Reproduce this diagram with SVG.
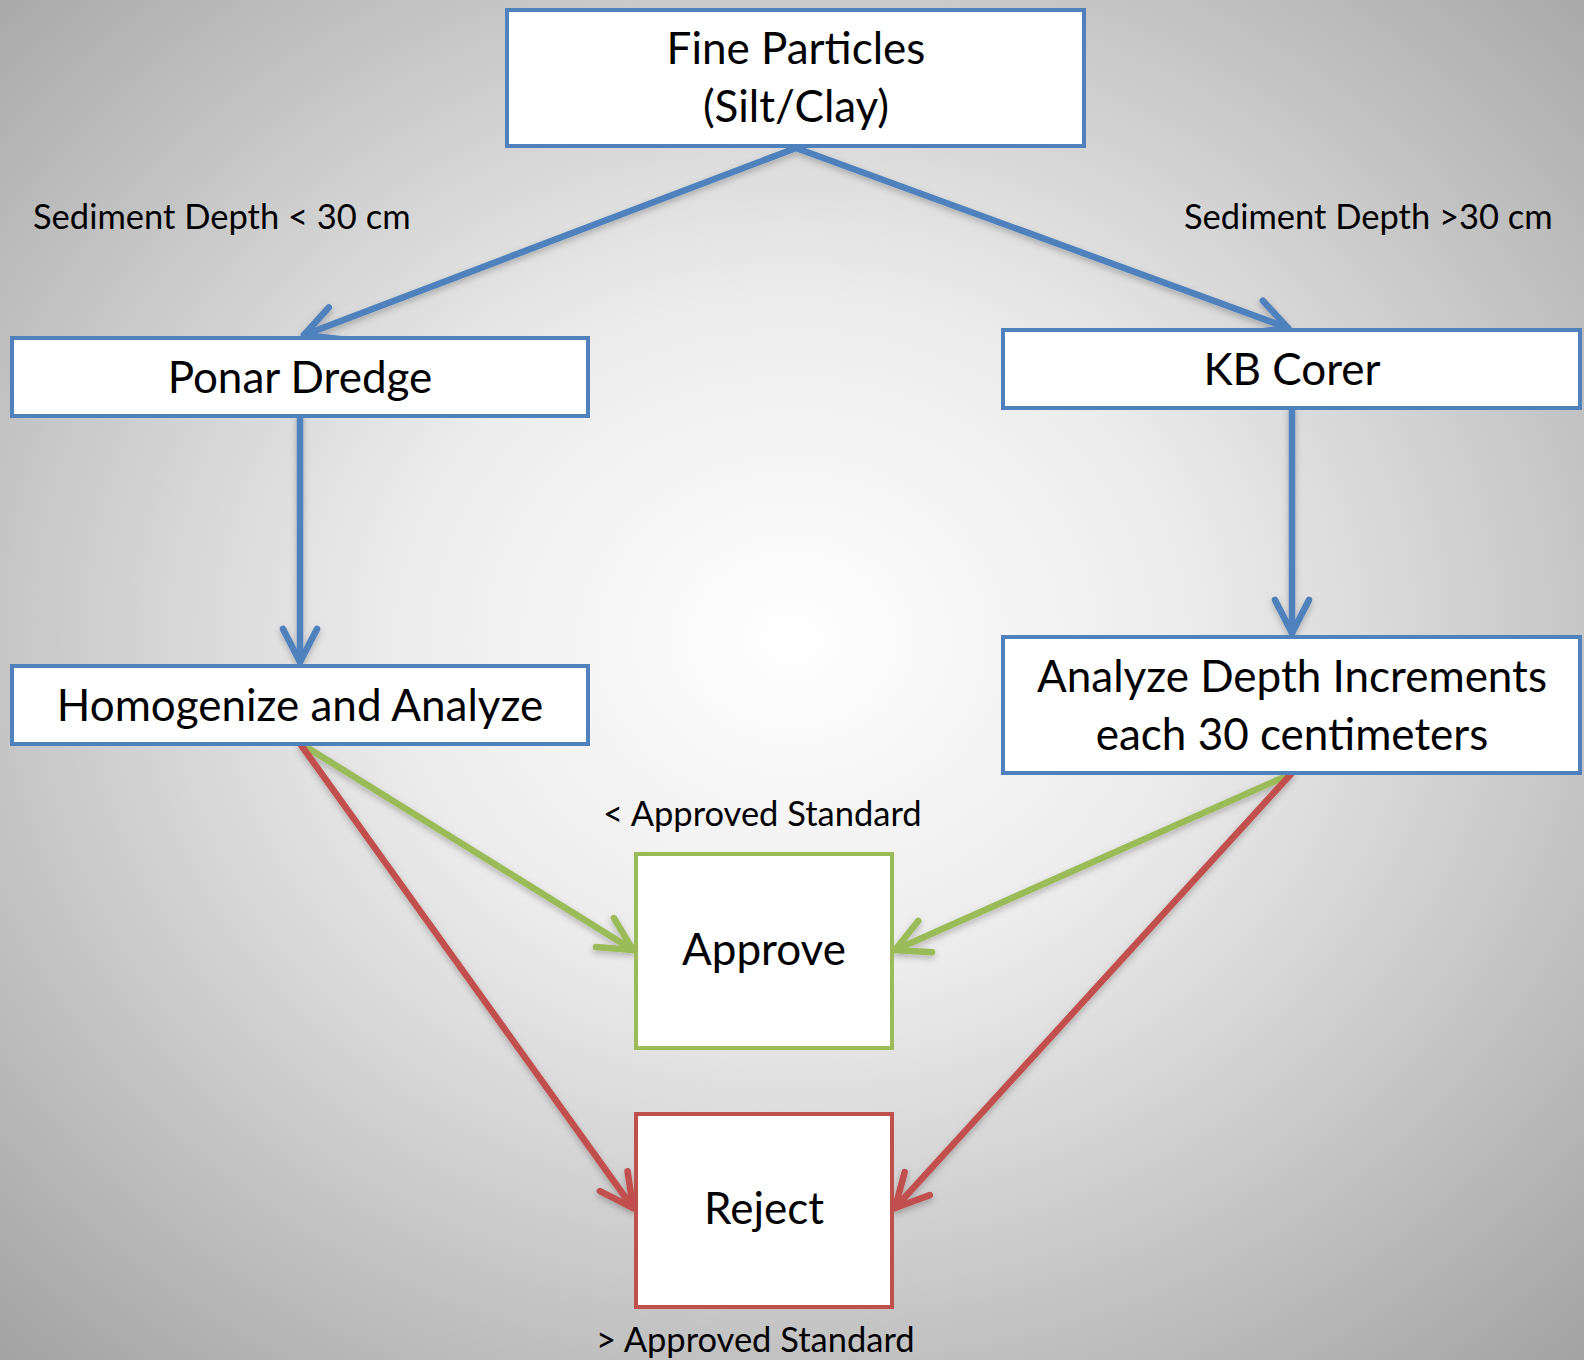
<svg xmlns="http://www.w3.org/2000/svg" width="1584" height="1360" viewBox="0 0 1584 1360">
<defs>
<radialGradient id="bg" cx="50%" cy="47%" r="72%" fx="50%" fy="47%">
<stop offset="0" stop-color="#ffffff"/>
<stop offset="0.35" stop-color="#ececec"/>
<stop offset="1" stop-color="#a4a4a4"/>
</radialGradient>
<filter id="sh" x="-10%" y="-10%" width="120%" height="130%">
<feDropShadow dx="0" dy="3" stdDeviation="3" flood-color="#000" flood-opacity="0.25"/>
</filter>
<marker id="ab" markerUnits="userSpaceOnUse" orient="auto" overflow="visible" markerWidth="1" markerHeight="1" refX="0" refY="0">
<path d="M -33 -17 L 0 0 L -33 17" fill="none" stroke="#4F81BD" stroke-width="6.5" stroke-linecap="round" stroke-linejoin="round"/>
</marker>
<marker id="ag" markerUnits="userSpaceOnUse" orient="auto" overflow="visible" markerWidth="1" markerHeight="1" refX="0" refY="0">
<path d="M -33 -17 L 0 0 L -33 17" fill="none" stroke="#9BBB59" stroke-width="6.5" stroke-linecap="round" stroke-linejoin="round"/>
</marker>
<marker id="ar" markerUnits="userSpaceOnUse" orient="auto" overflow="visible" markerWidth="1" markerHeight="1" refX="0" refY="0">
<path d="M -33 -17 L 0 0 L -33 17" fill="none" stroke="#C0504D" stroke-width="6.5" stroke-linecap="round" stroke-linejoin="round"/>
</marker>
</defs>
<style>
.box{fill:#ffffff;stroke-width:4;}
.b{stroke:#4F81BD;}
.g{stroke:#9BBB59;}
.r{stroke:#C0504D;}
.t{font-family:Lato,"Open Sans",sans-serif;font-size:44px;fill:#000;text-anchor:middle;}
.lbl{font-family:Lato,"Open Sans",sans-serif;font-size:34.5px;fill:#000;}
.c{fill:none;stroke-width:6.5;stroke-linecap:round;}
</style>
<rect x="0" y="0" width="1584" height="1360" fill="url(#bg)"/>
<g id="connectors" filter="url(#sh)">
<line class="c b" x1="796" y1="148" x2="304" y2="335" marker-end="url(#ab)"/>
<line class="c b" x1="796" y1="148" x2="1288" y2="328" marker-end="url(#ab)"/>
<line class="c b" x1="300" y1="416" x2="300" y2="662" marker-end="url(#ab)"/>
<line class="c b" x1="1292" y1="408" x2="1292" y2="633" marker-end="url(#ab)"/>
<line class="c g" x1="303" y1="745" x2="633" y2="950" marker-end="url(#ag)"/>
<line class="c g" x1="1291" y1="774" x2="895" y2="950" marker-end="url(#ag)"/>
<line class="c r" x1="301" y1="745" x2="633" y2="1208" marker-end="url(#ar)"/>
<line class="c r" x1="1291" y1="774" x2="895" y2="1208" marker-end="url(#ar)"/>
</g>
<g id="fine-particles">
<rect class="box b" x="507" y="10" width="577" height="136"/>
<text class="t" x="796" y="64">Fine Particles</text>
<text class="t" x="796" y="122">(Silt/Clay)</text>
</g>
<g id="ponar-dredge">
<rect class="box b" x="12" y="338" width="576" height="78"/>
<text class="t" x="300" y="393">Ponar Dredge</text>
</g>
<g id="kb-corer">
<rect class="box b" x="1003" y="330" width="577" height="78"/>
<text class="t" x="1292" y="385">KB Corer</text>
</g>
<g id="homogenize">
<rect class="box b" x="12" y="666" width="576" height="78"/>
<text class="t" x="300" y="721">Homogenize and Analyze</text>
</g>
<g id="analyze-depth">
<rect class="box b" x="1003" y="637" width="577" height="136"/>
<text class="t" x="1292" y="692">Analyze Depth Increments</text>
<text class="t" x="1292" y="750">each 30 centimeters</text>
</g>
<g id="approve">
<rect class="box g" x="636" y="854" width="256" height="194"/>
<text class="t" x="764" y="965">Approve</text>
</g>
<g id="reject">
<rect class="box r" x="636" y="1114" width="256" height="193"/>
<text class="t" x="764" y="1224">Reject</text>
</g>
<g id="labels">
<text class="lbl" x="33" y="229">Sediment Depth &lt; 30 cm</text>
<text class="lbl" x="1184" y="229">Sediment Depth &gt;30 cm</text>
<text class="lbl" x="603" y="826">&lt; Approved Standard</text>
<text class="lbl" x="596" y="1352">&gt; Approved Standard</text>
</g>
</svg>
